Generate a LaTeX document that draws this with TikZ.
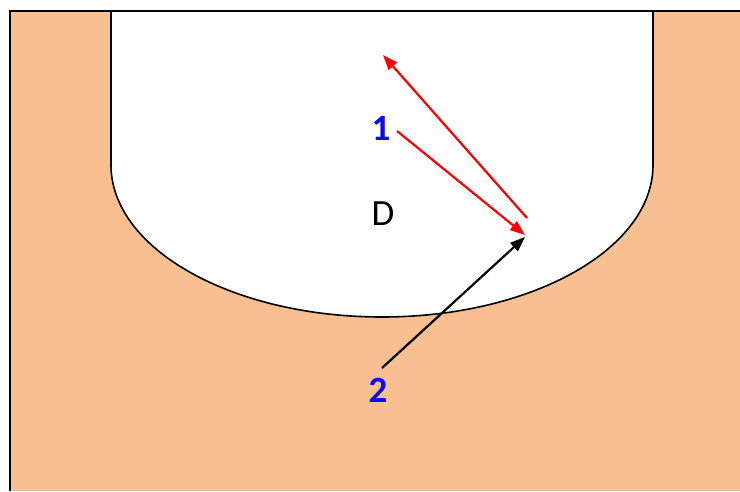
\documentclass[tikz,border=0pt]{standalone}
\usepackage{fontspec}
\setmainfont{Carlito}
\usetikzlibrary{arrows.meta}
\definecolor{sand}{RGB}{248,192,144}
\definecolor{lblue}{RGB}{10,10,255}
\begin{document}
\begin{tikzpicture}[x=1pt,y=1pt,
  arr/.style={line width=2.2pt,-{Triangle[length=15pt,width=11pt]}},
  numlbl/.style={text=lblue,font=\fontsize{37}{37}\selectfont\bfseries,inner sep=0pt},
  plainlbl/.style={font=\fontsize{37}{37}\selectfont,inner sep=0pt}]
\useasboundingbox (0,0) rectangle (740,491);
\fill[sand] (10,0) rectangle (740,480);
\fill[white] (111,480) -- (111,326) arc (180:360:271 and 152) -- (653,480) -- cycle;
\draw[line width=1.6pt] (111,480) -- (111,326) arc (180:360:271 and 152) -- (653,480);
\draw[line width=2.2pt] (10,0) -- (10,480) -- (740,480);
\node[numlbl] (one) at (381,363) {1};
\node[plainlbl] (dd) at (383,277) {D};
\node[numlbl] (two) at (378,101) {2};
\coordinate (a1s) at (397,360);
\coordinate (a1e) at (525,256);
\coordinate (a2s) at (527,273);
\coordinate (a2e) at (383,436);
\coordinate (bs) at (382,123);
\coordinate (be) at (525,254);
\draw[arr,red] (a1s) -- (a1e);
\draw[arr,red] (a2s) -- (a2e);
\draw[arr,black] (bs) -- (be);
\end{tikzpicture}
\end{document}
